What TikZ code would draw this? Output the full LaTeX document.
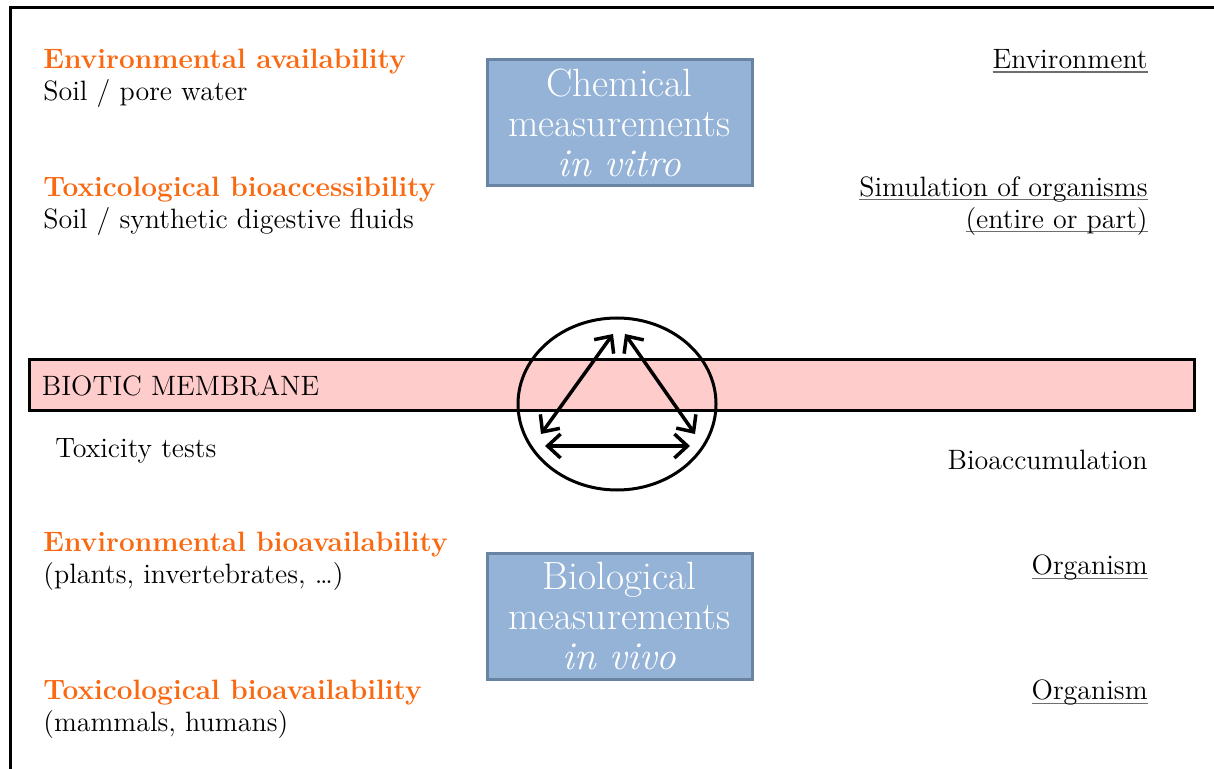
\documentclass[tikz,border=0pt]{standalone}
\usetikzlibrary{arrows.meta,positioning,shapes.geometric}
\definecolor{availorange}{RGB}{250,104,16}
\definecolor{measblue}{RGB}{149,179,215}
\definecolor{measedge}{RGB}{104,132,162}
\definecolor{membranepink}{RGB}{255,204,204}
\definecolor{linegray}{RGB}{110,110,110}
\newcommand*{\availhead}[1]{\textcolor{availorange}{\bfseries #1}}
\newcommand*{\scopeline}[1]{\setbox0\hbox{#1}\rlap{\textcolor{linegray}{\rule[-2pt]{\wd0}{0.7pt}}}\box0}

\begin{document}
\begin{tikzpicture}[x=0.5pt,y=-0.5pt]
		\tikzset{
			basefont/.style = {font = \fontsize{14}{16}\selectfont},
			leftlabel/.style = {basefont, align = left, anchor = west, inner sep = 0pt},
			rightlabel/.style = {basefont, align = right, anchor = east, inner sep = 0pt},
			measbox/.style = {font = \fontsize{19.7}{20}\selectfont, text = white, align = center,
				fill = measblue, draw = measedge, line width = 1.5pt,
				minimum width = 132.5pt, minimum height = 63pt},
			membrane/.style = {fill = membranepink, draw = black, line width = 1.5pt,
				minimum width = 582.5pt, minimum height = 25.5pt},
			cell/.style = {ellipse, draw = black, line width = 1.5pt,
				minimum width = 99pt, minimum height = 86pt},
			exchange/.style = {line width = 1.75pt,
				{Straight Barb[length = 6.5pt, width = 12pt]}-{Straight Barb[length = 6.5pt, width = 12pt]}},
		};

		\useasboundingbox (0,0) rectangle (1214,769);
		\draw[line width = 1.5pt] (10,769) -- (10,8) -- (1214,8);

		\node[membrane] (membrane) at (611.5,385.5) {};
		\node[leftlabel, right = 7pt of membrane.west] (membrane-label) {BIOTIC MEMBRANE};

		\node[measbox] (chembox) at (619.5,123) {Chemical\\measurements\\\textit{in vitro}};
		\node[measbox] (biobox) at (619.5,616) {Biological\\measurements\\\textit{in vivo}};

		\node[leftlabel] (avail1) at (43,78) {\availhead{Environmental availability}\\Soil / pore water};
		\node[leftlabel] (avail2) at (43,206.5) {\availhead{Toxicological bioaccessibility}\\Soil / synthetic digestive fluids};
		\node[leftlabel] (toxtests) at (55,451) {Toxicity tests};
		\node[leftlabel] (avail3) at (43,561.5) {\availhead{Environmental bioavailability}\\(plants, invertebrates, \dots)};
		\node[leftlabel] (avail4) at (43,709.5) {\availhead{Toxicological bioavailability}\\(mammals, humans)};

		\node[rightlabel] (scope1) at (1148,61) {\scopeline{Environment}};
		\node[rightlabel] (scope2) at (1148,206) {\scopeline{Simulation of organisms}\\\scopeline{(entire or part)}};
		\node[rightlabel] (scope3) at (1148,460) {Bioaccumulation};
		\node[rightlabel] (scope4) at (1148,568) {\scopeline{Organism}};
		\node[rightlabel] (scope5) at (1148,693) {\scopeline{Organism}};

		\node[cell] (cell) at (617,404) {};
		\coordinate (apex-l) at (613,334);
		\coordinate (apex-r) at (625,334);
		\coordinate (corner-l) at (541,434);
		\coordinate (corner-r) at (695,434);
		\coordinate (base-l) at (545,446);
		\coordinate (base-r) at (690,446);
		\draw[exchange] (apex-l) -- (corner-l);
		\draw[exchange] (apex-r) -- (corner-r);
		\draw[exchange] (base-l) -- (base-r);
	\end{tikzpicture}
\end{document}
